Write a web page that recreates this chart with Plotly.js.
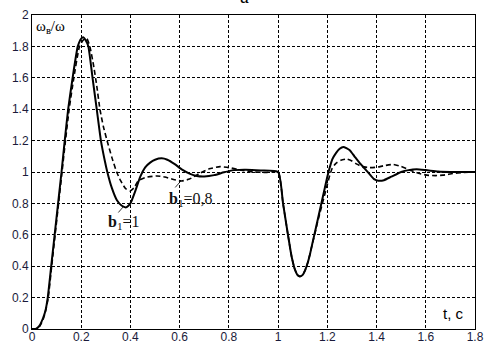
<!DOCTYPE html>
<html>
<head>
<meta charset="utf-8">
<script src="https://cdn.plot.ly/plotly-3.0.1.min.js"></script>
<style>html,body{margin:0;padding:0;background:#fff;}#chart{width:484px;height:345px;}</style>
</head>
<body>
<div id="chart"></div>
<script>
// Solid curve: b1 = 1
const tSolid = [0,0.015,0.03,0.045,0.055,0.064,0.078,0.092,0.106,0.12,0.133,0.147,0.165,0.186,0.2,0.208,0.218,0.229,0.246,0.263,0.28,0.296,0.306,0.324,0.345,0.365,0.383,0.4,0.42,0.44,0.46,0.48,0.5,0.527,0.55,0.58,0.61,0.64,0.67,0.7,0.74,0.78,0.82,0.87,0.93,1.0,1.02,1.04,1.055,1.068,1.08,1.089,1.1,1.11,1.12,1.13,1.14,1.15,1.16,1.17,1.18,1.19,1.2,1.21,1.22,1.235,1.25,1.265,1.29,1.31,1.33,1.35,1.37,1.39,1.407,1.43,1.46,1.5,1.53,1.563,1.6,1.65,1.7,1.8];
const vSolid = [0,0,0.02,0.07,0.12,0.2,0.4,0.6,0.8,1.0,1.2,1.4,1.6,1.8,1.85,1.858,1.84,1.8,1.6,1.4,1.2,1.07,1.0,0.9,0.82,0.785,0.775,0.8,0.88,0.97,1.03,1.06,1.078,1.087,1.078,1.05,1.015,0.99,0.975,0.972,0.98,0.998,1.012,1.015,1.01,1.0,0.8,0.6,0.46,0.38,0.342,0.335,0.345,0.375,0.42,0.48,0.55,0.62,0.69,0.76,0.83,0.9,0.97,1.03,1.08,1.12,1.148,1.16,1.14,1.1,1.06,1.025,0.99,0.955,0.945,0.948,0.97,1.0,1.012,1.017,1.012,1.003,1.0,1.0];
// Dashed curve: b1 = 0.8
const tDash = [0,0.015,0.03,0.045,0.056,0.066,0.08,0.094,0.108,0.122,0.136,0.151,0.17,0.193,0.208,0.222,0.235,0.25,0.263,0.276,0.29,0.305,0.325,0.344,0.36,0.38,0.398,0.415,0.432,0.46,0.507,0.54,0.575,0.608,0.64,0.68,0.72,0.764,0.8,0.85,0.9,0.95,1.0,1.02,1.04,1.055,1.068,1.08,1.089,1.1,1.11,1.12,1.13,1.14,1.15,1.16,1.17,1.18,1.19,1.2,1.21,1.22,1.235,1.255,1.279,1.3,1.32,1.34,1.37,1.4,1.43,1.468,1.5,1.543,1.575,1.604,1.64,1.67,1.71,1.75,1.8];
const vDash = [0,0,0.015,0.06,0.12,0.2,0.4,0.6,0.8,1.0,1.2,1.4,1.6,1.8,1.84,1.852,1.8,1.68,1.55,1.4,1.29,1.2,1.09,1.0,0.945,0.895,0.879,0.9,0.945,0.965,0.975,0.968,0.952,0.943,0.955,0.99,1.02,1.034,1.028,1.012,1.0,0.997,1.0,0.8,0.6,0.46,0.38,0.342,0.335,0.345,0.375,0.42,0.48,0.55,0.61,0.68,0.74,0.8,0.86,0.92,0.98,1.025,1.055,1.075,1.082,1.07,1.05,1.035,1.028,1.03,1.04,1.048,1.035,1.008,0.99,0.98,0.977,0.98,0.99,0.997,1.0];

const xTicks = [0,0.2,0.4,0.6,0.8,1,1.2,1.4,1.6,1.8];
const xTickText = ["0","0.2","0.4","0.6","0.8","1","1.2","1.4","1.6","1.8"];
const yTicks = [0,0.2,0.4,0.6,0.8,1,1.2,1.4,1.6,1.8,2];
const yTickText = ["0","0.2","0.4","0.6","0.8","1","1.2","1.4","1.6","1.8","2"];

const traces = [
  {x: tDash, y: vDash, mode: 'lines', line: {color: '#000', width: 1.6, dash: '5px,3px', shape: 'spline', smoothing: 0.5}, hoverinfo: 'skip'},
  {x: tSolid, y: vSolid, mode: 'lines', line: {color: '#000', width: 2, shape: 'spline', smoothing: 0.5}, hoverinfo: 'skip'}
];

const tickFont = {family: 'Liberation Sans, Arial, sans-serif', size: 12, color: '#1a1a3a'};
const annFont = {family: 'Liberation Serif, serif', size: 16, color: '#111'};
const layout = {
  width: 484, height: 345,
  margin: {l: 32, r: 9, t: 15, b: 16, pad: 0},
  paper_bgcolor: '#fff', plot_bgcolor: '#fff',
  showlegend: false,
  xaxis: {range: [0, 1.8], tickvals: xTicks, ticktext: xTickText, tickfont: tickFont, ticks: '', ticklabelstandoff: -3, showgrid: true, gridcolor: '#000', gridwidth: 1, griddash: '3px,2px', zeroline: false, showline: true, linecolor: '#000', linewidth: 1, mirror: true, fixedrange: true},
  yaxis: {range: [0, 2], tickvals: yTicks, ticktext: yTickText, tickfont: tickFont, ticks: '', showgrid: true, gridcolor: '#000', gridwidth: 1, griddash: '3px,2px', zeroline: false, showline: true, linecolor: '#000', linewidth: 1, mirror: true, fixedrange: true},
  annotations: [
    {xref: 'paper', yref: 'paper', x: 0.48, y: 1.019, xanchor: 'center', yanchor: 'bottom', showarrow: false, text: 'a', font: {family: 'Liberation Serif, serif', size: 20, color: '#000'}},
    {xref: 'paper', yref: 'paper', x: 0.005, y: 0.998, xanchor: 'left', yanchor: 'top', showarrow: false, text: 'ω<sub>в</sub>/ω', font: {family: 'Liberation Serif, serif', size: 15, color: '#000'}},
    {xref: 'paper', yref: 'paper', x: 0.98, y: 0.015, xanchor: 'right', yanchor: 'bottom', showarrow: false, text: 't, c', font: {family: 'Liberation Sans, Arial, sans-serif', size: 15, color: '#000'}},
    {x: 0.374, y: 0.68, xref: 'x', yref: 'y', text: '<b>b</b><sub>1</sub>=1', showarrow: false, font: annFont},
    {x: 0.645, y: 0.822, xref: 'x', yref: 'y', text: '<b>b</b><sub>1</sub>=0,8', showarrow: false, font: annFont},
    {x: 0.37, y: 0.777, xref: 'x', yref: 'y', text: '', showarrow: true, arrowhead: 0, arrowwidth: 0.8, arrowcolor: '#000', ax: -6, ay: 7},
    {x: 0.605, y: 0.943, xref: 'x', yref: 'y', text: '', showarrow: true, arrowhead: 0, arrowwidth: 0.8, arrowcolor: '#000', ax: -7, ay: 8}
  ]
};
Plotly.newPlot('chart', traces, layout, {displayModeBar: false, staticPlot: true});
</script>
</body>
</html>
